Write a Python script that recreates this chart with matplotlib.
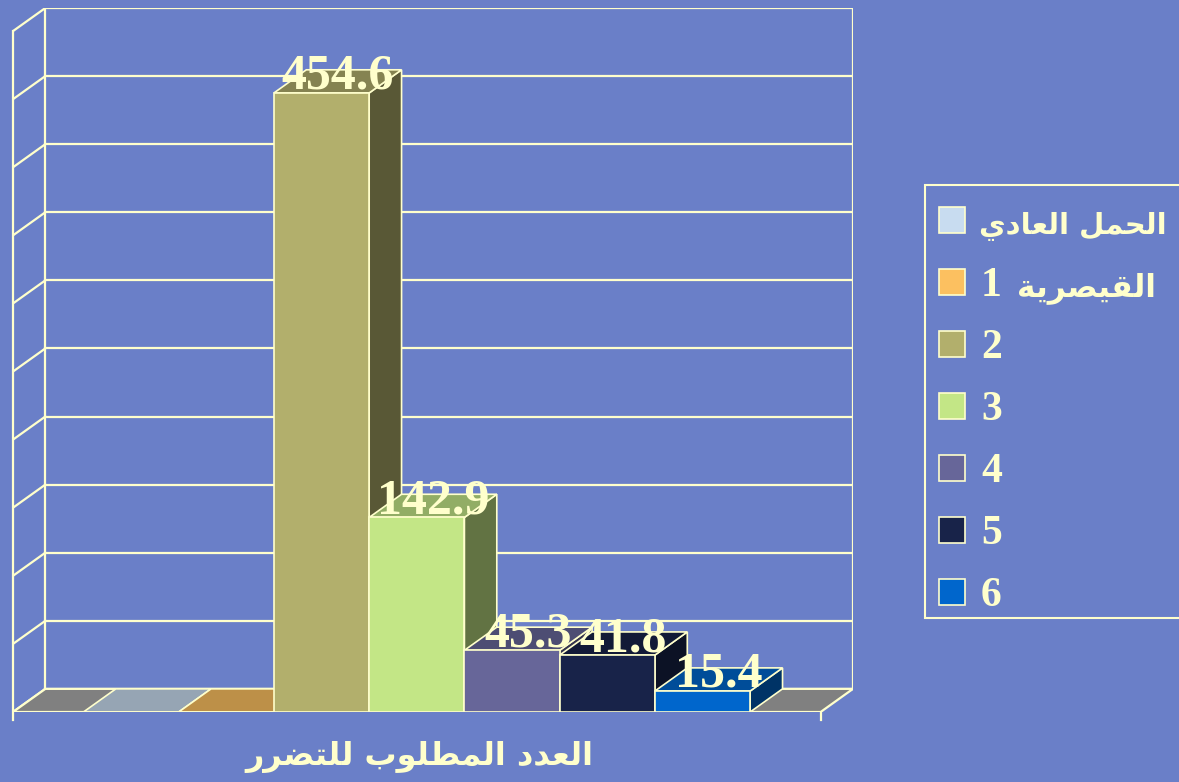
import matplotlib
matplotlib.use("Agg")
import matplotlib.pyplot as plt
from matplotlib.patches import Polygon, Rectangle
from matplotlib.colors import to_rgb

# data
series = ["الحمل العادي", "القيصرية 1", "2", "3", "4", "5", "6"]
values = [0, 0, 454.6, 142.9, 45.3, 41.8, 15.4]
colors = ["#C8DCF0", "#FCC060", "#B2AF6C", "#C3E686", "#676699", "#182349", "#0066CC"]
title = "العدد المطلوب للتضرر"
y_max = 500
y_step = 50

bg = "#6A7FC8"
line_c = "#FFFFCC"
floor_c = "#808080"
W, H = 1179, 782

# Arabic presentation forms: isolated, final, initial, medial
FORMS = {
    "ا": ("\uFE8D", "\uFE8E", None, None),
    "ب": ("\uFE8F", "\uFE90", "\uFE91", "\uFE92"),
    "ة": ("\uFE93", "\uFE94", None, None),
    "ت": ("\uFE95", "\uFE96", "\uFE97", "\uFE98"),
    "ح": ("\uFEA1", "\uFEA2", "\uFEA3", "\uFEA4"),
    "د": ("\uFEA9", "\uFEAA", None, None),
    "ر": ("\uFEAD", "\uFEAE", None, None),
    "ص": ("\uFEB9", "\uFEBA", "\uFEBB", "\uFEBC"),
    "ض": ("\uFEBD", "\uFEBE", "\uFEBF", "\uFEC0"),
    "ط": ("\uFEC1", "\uFEC2", "\uFEC3", "\uFEC4"),
    "ع": ("\uFEC9", "\uFECA", "\uFECB", "\uFECC"),
    "ق": ("\uFED5", "\uFED6", "\uFED7", "\uFED8"),
    "ل": ("\uFEDD", "\uFEDE", "\uFEDF", "\uFEE0"),
    "م": ("\uFEE1", "\uFEE2", "\uFEE3", "\uFEE4"),
    "و": ("\uFEED", "\uFEEE", None, None),
    "ي": ("\uFEF1", "\uFEF2", "\uFEF3", "\uFEF4"),
}


def shape(text):
    # join letters and put them in visual (right to left) order
    out = []
    for i, ch in enumerate(text):
        if ch not in FORMS:
            out.append(ch)
            continue
        prev = text[i - 1] if i > 0 else ""
        nxt = text[i + 1] if i + 1 < len(text) else ""
        join_prev = prev in FORMS and FORMS[prev][2] is not None
        join_next = FORMS[ch][2] is not None and nxt in FORMS
        iso, fin, ini, med = FORMS[ch]
        if join_prev and join_next:
            out.append(med)
        elif join_prev:
            out.append(fin)
        elif join_next:
            out.append(ini)
        else:
            out.append(iso)
    return "".join(reversed(out))


def shade(c, f):
    r, g, b = to_rgb(c)
    return (r * f, g * f, b * f)


def px(x, y):
    # pixel position from top-left -> figure fraction
    return x / W, 1 - y / H


fig = plt.figure(figsize=(W / 100, H / 100), dpi=100, facecolor=bg)
ax = fig.add_axes([0.011, 0.0895, 0.7125, 0.9003])
ax.set_axis_off()

gap = 0.74   # empty floor left/right of the bars
dx = 0.34    # depth offset in x (bar units)
dy = 17      # depth offset in y (value units)
x0 = -0.5 - gap
x1 = len(values) - 0.5 + gap
ax.set_xlim(x0, x1 + dx)
ax.set_ylim(0, y_max + dy)

lw = 1.6
# floor
ax.add_patch(Polygon([(x0, 0), (x1, 0), (x1 + dx, dy), (x0 + dx, dy)],
                     closed=True, facecolor=floor_c, edgecolor=line_c, lw=lw, zorder=1))
# walls and gridlines
for v in range(0, y_max + 1, y_step):
    ax.plot([x0, x0 + dx], [v, v + dy], color=line_c, lw=lw, zorder=0.5)
    ax.plot([x0 + dx, x1 + dx], [v + dy, v + dy], color=line_c, lw=lw, zorder=0.5)
ax.plot([x0, x0], [-6, y_max], color=line_c, lw=lw, clip_on=False, zorder=0.5)
ax.plot([x1, x1], [-6, 0], color=line_c, lw=lw, clip_on=False, zorder=0.5)
ax.plot([x0 + dx, x0 + dx], [dy, y_max + dy], color=line_c, lw=lw, zorder=0.5)
ax.plot([x1 + dx, x1 + dx], [dy, y_max + dy], color=line_c, lw=lw, zorder=0.5)

# 3d bars, drawn left to right
for i, (v, c) in enumerate(zip(values, colors)):
    l, r = i - 0.5, i + 0.5
    z = 2 + i
    ax.add_patch(Polygon([(r, 0), (r + dx, dy), (r + dx, v + dy), (r, v)], closed=True,
                         facecolor=shade(c, 0.5), edgecolor=line_c, lw=1.2, zorder=z))
    ax.add_patch(Polygon([(l, v), (l + dx, v + dy), (r + dx, v + dy), (r, v)], closed=True,
                         facecolor=shade(c, 0.75), edgecolor=line_c, lw=1.2, zorder=z))
    ax.add_patch(Polygon([(l, 0), (r, 0), (r, v), (l, v)], closed=True,
                         facecolor=c, edgecolor=line_c, lw=1.2, zorder=z))

for i, v in enumerate(values):
    if v > 0:
        ax.text(i + dx / 2, v + 3, f"{v}", ha="center", va="baseline", fontsize=36,
                fontweight="bold", family="Liberation Serif", color=line_c, zorder=20)

# legend, laid out by hand (right side runs off the picture like the original)
fig.patches.append(Rectangle(px(925, 618), 270 / W, (618 - 185) / H, transform=fig.transFigure,
                             facecolor=bg, edgecolor=line_c, lw=1.5, zorder=1))
for k, (s, c) in enumerate(zip(series, colors)):
    cy = 220 + k * 62
    fig.patches.append(Rectangle(px(939, cy + 13), 26 / W, 26 / H, transform=fig.transFigure,
                                 facecolor=c, edgecolor=line_c, lw=1.2, zorder=2))
    num = " ".join(t for t in s.split() if t.isdigit())
    word = " ".join(t for t in s.split() if not t.isdigit())
    if num:
        fig.text(*px(981, cy + 14), num, fontsize=30, fontweight="bold",
                 family="Liberation Serif", color=line_c, va="baseline", zorder=3)
    if word:
        fig.text(*px(1017 if num else 979, cy + 14), shape(word),
                 fontsize=22.5 if num else 21, fontweight="bold", family="DejaVu Sans",
                 color=line_c, va="baseline", zorder=3)

fig.text(*px(419, 757), shape(title), ha="center", va="center",
         fontsize=23, fontweight="bold", family="DejaVu Sans", color=line_c)

fig.savefig("out.png", dpi=100, facecolor=bg)
